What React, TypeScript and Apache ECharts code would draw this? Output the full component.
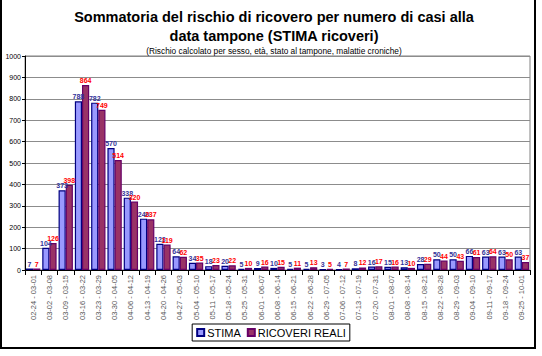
import React, { useEffect, useRef } from "react";
import * as echarts from "echarts";

const categories = [
  "02-24 - 03-01", "03-02 - 03-08", "03-09 - 03-15", "03-16 - 03-22", "03-23 - 03-29",
  "03-30 - 04-05", "04-06 - 04-12", "04-13 - 04-19", "04-20 - 04-26", "04-27 - 05-03",
  "05-04 - 05-10", "05-11 - 05-17", "05-18 - 05-24", "05-25 - 05-31", "06-01 - 06-07",
  "06-08 - 06-14", "06-15 - 06-21", "06-22 - 06-28", "06-29 - 07-05", "07-06 - 07-12",
  "07-13 - 07-19", "07-20 - 07-31", "08-01 - 08-07", "08-08 - 08-14", "08-15 - 08-21",
  "08-22 - 08-28", "08-29 - 09-03", "09-04 - 09-10", "09-11 - 09-17", "09-18 - 09-24",
  "09-25 - 10-01",
];
const stima = [7, 104, 373, 788, 782, 570, 338, 240, 123, 64, 34, 18, 20, 5, 9, 10, 5, 5, 3, 4, 8, 16, 15, 13, 28, 50, 50, 66, 63, 63, 63];
const reali = [7, 126, 398, 864, 749, 514, 320, 237, 119, 62, 35, 23, 22, 10, 16, 15, 11, 13, 5, 7, 12, 17, 16, 10, 29, 44, 43, 61, 64, 50, 37];

const FONT = "Liberation Sans, Arial, sans-serif";

export default function App() {
  const ref = useRef<HTMLDivElement>(null);
  useEffect(() => {
    if (!ref.current) return;
    const chart = echarts.init(ref.current, undefined, { renderer: "svg" });
    chart.setOption({
      animation: false,
      backgroundColor: "#fff",
      textStyle: { fontFamily: FONT },
      title: {
        left: 269,
        top: 2,
        itemGap: 2,
        textAlign: "center",
        text: "Sommatoria del rischio di ricovero per numero di casi alla\ndata tampone (STIMA ricoveri)",
        textStyle: { fontFamily: FONT, fontSize: 14.5, fontWeight: "bold", color: "#000", lineHeight: 19 },
        subtext: "(Rischio calcolato per sesso, età, stato al tampone, malattie croniche)",
        subtextStyle: { fontFamily: FONT, fontSize: 8.3, color: "#000" },
      },
      graphic: [
        {
          type: "rect",
          shape: { x: 1, y: -2, width: 534, height: 350 },
          style: { fill: "none", stroke: "#000", lineWidth: 2 },
          silent: true,
        },
      ],
      legend: {
        bottom: 15,
        left: "center",
        data: ["STIMA", "RICOVERI REALI"],
        icon: "rect",
        itemWidth: 7,
        itemHeight: 7,
        itemGap: 6,
        borderColor: "#000",
        borderWidth: 1,
        padding: [3, 4],
        textStyle: { fontFamily: FONT, fontSize: 11, color: "#000", padding: [0, 0, 0, -2] },
      },
      grid: {
        left: 25,
        right: 12,
        top: 56,
        bottom: 86,
        show: true,
        borderColor: "#808080",
        borderWidth: 1,
      },
      xAxis: {
        type: "category",
        data: categories,
        axisLine: { lineStyle: { color: "#000" } },
        axisTick: { show: true, lineStyle: { color: "#000" } },
        axisLabel: {
          rotate: 90,
          interval: 0,
          fontSize: 7.5,
          color: "#555",
          fontFamily: FONT,
          margin: 5,
        },
      },
      yAxis: {
        type: "value",
        min: 0,
        max: 1000,
        interval: 100,
        axisLine: { show: true, lineStyle: { color: "#000" } },
        axisTick: { show: true, length: 3, lineStyle: { color: "#000" } },
        axisLabel: {
          fontSize: 7,
          color: "#000",
          fontFamily: FONT,
          margin: 4,
          formatter: (v: number) => String(v),
        },
        splitLine: { lineStyle: { color: "#8c8c8c", width: 1 } },
      },
      series: [
        {
          name: "STIMA",
          type: "bar",
          data: stima,
          barGap: "0%",
          barCategoryGap: "12%",
          itemStyle: { color: "#9999FF", borderColor: "#000080", borderWidth: 1.2 },
          label: {
            show: true,
            position: "top",
            distance: 1,
            fontSize: 7,
            fontWeight: "bold",
            color: "#333399",
            fontFamily: FONT,
          },
        },
        {
          name: "RICOVERI REALI",
          type: "bar",
          data: reali,
          itemStyle: { color: "#993366", borderColor: "#660066", borderWidth: 1.2 },
          label: {
            show: true,
            position: "top",
            distance: 1,
            fontSize: 7,
            fontWeight: "bold",
            color: "#FF0000",
            fontFamily: FONT,
          },
        },
      ],
    });
    return () => chart.dispose();
  }, []);
  return (
    <div
      ref={ref}
      style={{ position: "absolute", left: 0, top: 0, width: 542, height: 356 }}
    />
  );
}
